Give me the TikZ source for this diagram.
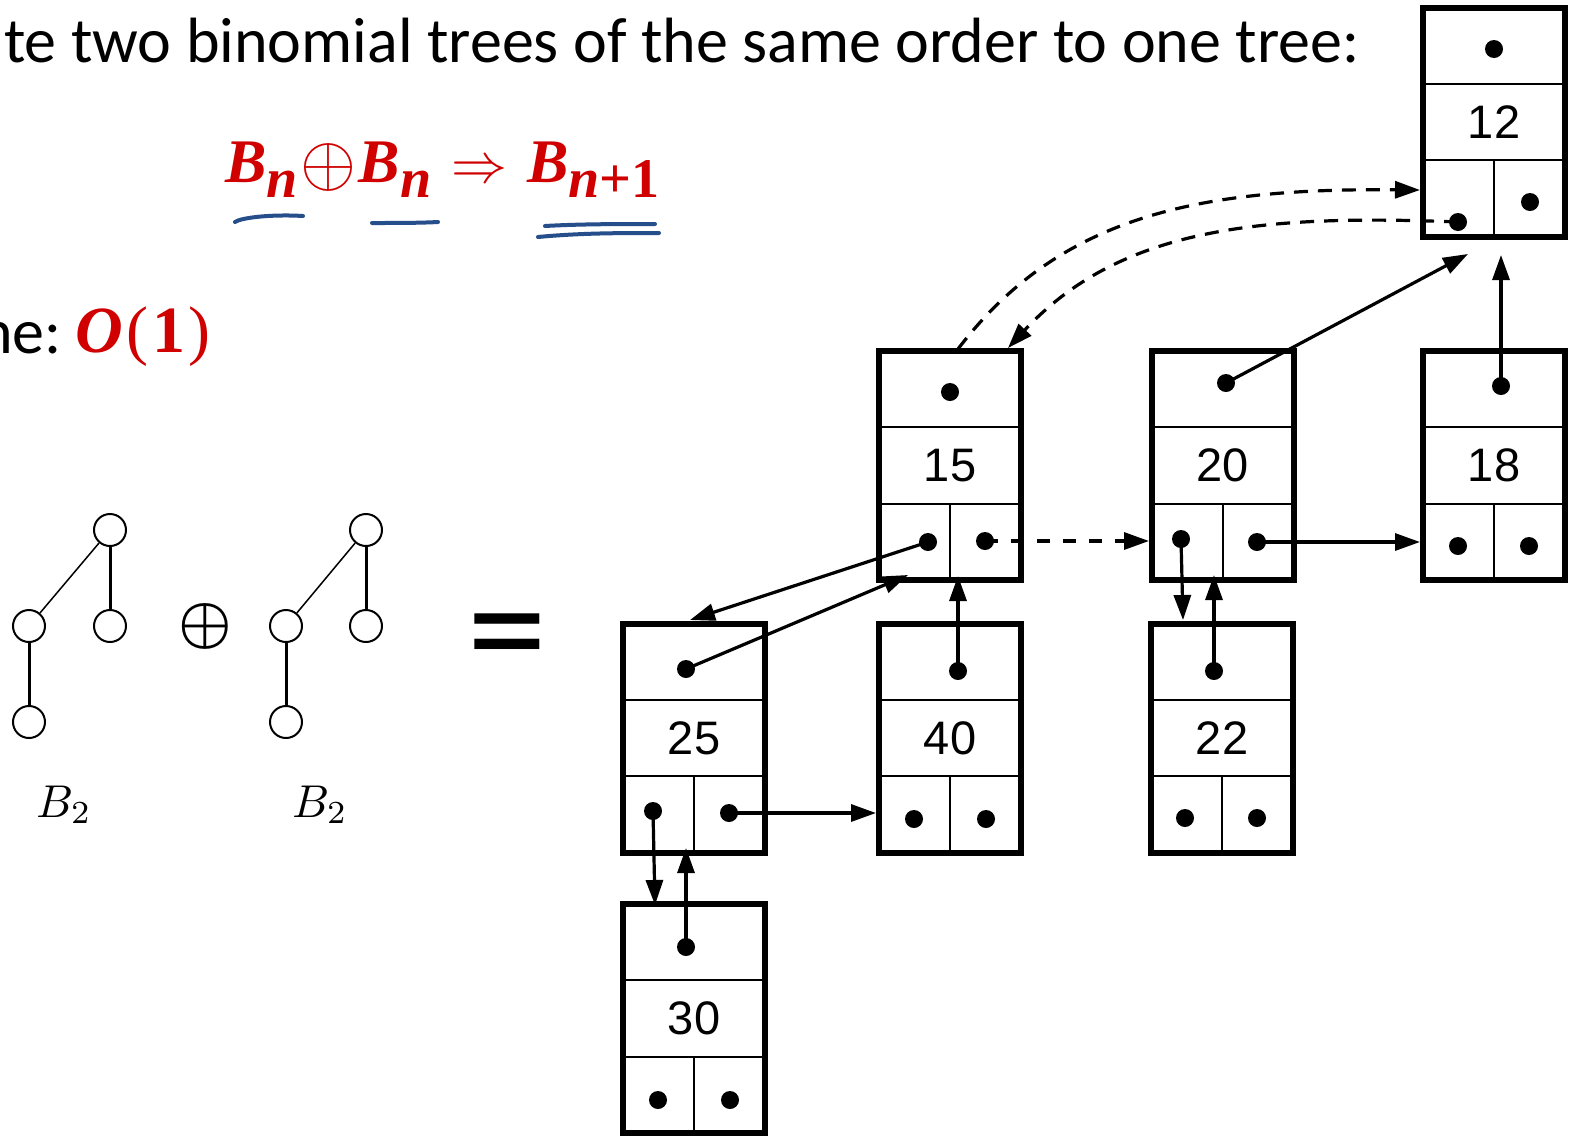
\documentclass[tikz,border=0pt]{standalone}
\usepackage[no-math]{fontspec}
\setmainfont{Carlito}
\newfontfamily\arialfont{Liberation Sans}
\newfontfamily\timesfont{Liberation Serif}
\usepackage{amsmath}
\usetikzlibrary{arrows.meta,calc}
\definecolor{myred}{RGB}{208,0,0}
\definecolor{penblue}{RGB}{38,78,138}
\tikzset{
  heapcell/.style={draw, line width=6pt, minimum width=142pt, minimum height=229pt, inner sep=0pt, outer sep=0pt},
  rowline/.style={line width=2pt},
  ptr/.style={circle, fill, inner sep=0pt, minimum size=18pt},
  conn/.style={line width=3.2pt, -{Triangle[length=25pt,width=17pt]}},
  dconn/.style={conn, dash pattern=on 13pt off 13pt},
  cconn/.style={conn, dash pattern=on 14pt off 10pt},
  keytext/.style={font=\arialfont\fontsize{47}{56}\selectfont, inner sep=0pt},
  tnode/.style={circle, draw, line width=2pt, minimum size=32pt, inner sep=0pt},
  thinedge/.style={line width=1.5pt},
  thickedge/.style={line width=3pt},
  pen/.style={penblue, line width=4pt, line cap=round},
}
\newcommand\heapbox[4]{%
  \node[heapcell] (#1) at (#2,#3) {};
  \draw[rowline] ($(#1.north west)!1/3!(#1.south west)$) -- ($(#1.north east)!1/3!(#1.south east)$);
  \draw[rowline] ($(#1.north west)!2/3!(#1.south west)$) -- ($(#1.north east)!2/3!(#1.south east)$);
  \draw[rowline] ($(#1.north)!2/3!(#1.south)$) -- (#1.south);
  \node[keytext] (#1-key) at (#1.center) {#4};
}
\newcommand\ptrs[7]{%
  \node[ptr] (#1-t) at (#2,#3) {};
  \node[ptr] (#1-l) at (#4,#5) {};
  \node[ptr] (#1-r) at (#6,#7) {};
}
\newcommand\bigmath[2]{\scalebox{#1}{\normalsize$#2$}}
\begin{document}
\begin{tikzpicture}[x=1pt,y=-1pt]
\useasboundingbox (0,0) rectangle (1569,1136);
\fill[white] (0,0) rectangle (1569,1136);

% ---- texts
\node[anchor=base west, inner sep=0pt, font=\fontsize{64}{70}\selectfont] (title) at (4,62)
  {te two binomial trees of the same order to one tree:};
\node[anchor=base west, inner sep=0pt, font=\fontsize{64}{70}\selectfont] (time) at (-21,353) {ne:};
\node[anchor=base west, inner sep=0pt, text=myred, font=\fontsize{66}{70}\selectfont] (cost) at (75,352)
  {{\timesfont\bfseries\itshape O}\hspace{4pt}{\timesfont(}\hspace{4pt}{\timesfont\bfseries 1}\hspace{3pt}{\timesfont)}};
\node[anchor=base west, inner sep=0pt, text=myred, font=\fontsize{62}{70}\selectfont] (formula) at (225,182)
  {\timesfont\bfseries\itshape B\raisebox{-15pt}{\fontsize{56}{60}\selectfont n}\hspace{3pt}\raisebox{-3pt}{\bigmath{7.2}{\oplus}}\hspace{2pt}B\raisebox{-15pt}{\fontsize{56}{60}\selectfont n}\hspace{20pt}\bigmath{5.6}{\Rightarrow}\hspace{20pt}B\raisebox{-15pt}{\fontsize{56}{60}\selectfont n\upshape +1}};

% ---- pen strokes
\draw[pen] (235,222) .. controls (240,218) and (270,214) .. (303,216);
\draw[pen] (372,223) .. controls (395,223) and (420,223) .. (438,222);
\draw[pen] (545,226) .. controls (580,224) and (620,224) .. (655,224);
\draw[pen] (538,237) .. controls (580,233) and (620,233) .. (659,233);

% ---- binomial trees
\node[tnode] (t1r) at (110,530) {};
\node[tnode] (t1a) at (29,626) {};
\node[tnode] (t1b) at (110,626) {};
\node[tnode] (t1c) at (29,722) {};
\draw[thinedge] (t1r) -- (t1a);
\draw[thickedge] (t1r) -- (t1b);
\draw[thickedge] (t1a) -- (t1c);
\node[tnode] (t2r) at (366,530) {};
\node[tnode] (t2a) at (286,626) {};
\node[tnode] (t2b) at (366,626) {};
\node[tnode] (t2c) at (286,722) {};
\draw[thinedge] (t2r) -- (t2a);
\draw[thickedge] (t2r) -- (t2b);
\draw[thickedge] (t2a) -- (t2c);
\node[inner sep=0pt] (plus) at (205,626) {\bigmath{6}{\boldsymbol{\oplus}}};
\node[anchor=base, inner sep=0pt] (lab1) at (64,817) {\bigmath{4.6}{B_2}};
\node[anchor=base, inner sep=0pt] (lab2) at (320,817) {\bigmath{4.6}{B_2}};
\node[anchor=base, inner sep=0pt, font=\fontsize{160}{160}\selectfont] (eq) at (507.5,682) {=};

% ---- heap boxes
\heapbox{b12}{1494}{122}{12}
\heapbox{b15}{950}{465.5}{15}
\heapbox{b20}{1222.5}{465.5}{20}
\heapbox{b18}{1494}{465.5}{18}
\heapbox{b25}{694}{738}{25}
\heapbox{b40}{950}{738}{40}
\heapbox{b22}{1222}{738}{22}
\heapbox{b30}{694}{1018.5}{30}

\ptrs{b12}{1494}{49}{1458}{222}{1530}{202}
\ptrs{b15}{950}{392}{928}{542}{985}{541}
\ptrs{b20}{1226}{383}{1181}{539}{1257}{542}
\ptrs{b18}{1501}{386}{1458}{546}{1529}{546}
\ptrs{b25}{686}{669}{653}{811}{729}{813}
\ptrs{b40}{958}{671}{914}{819}{986}{819}
\ptrs{b22}{1214}{671}{1185}{818}{1257}{818}
\ptrs{b30}{686}{947}{658}{1100}{730}{1100}

% ---- connector end points
\coordinate (e20to12) at (1468,254);
\coordinate (e18to12) at (1501,255);
\coordinate (e15to20) at (1149,541);
\coordinate (e20to18) at (1420,542);
\coordinate (e20to22) at (1183,620);
\coordinate (e22to20) at (1214,575);
\coordinate (e15to25) at (690,620);
\coordinate (e25to15) at (908,575);
\coordinate (e40to15) at (958,576);
\coordinate (e25to40) at (876,813);
\coordinate (e25to30) at (655,905);
\coordinate (e30to25) at (686,848);
\coordinate (s15top) at (958,349);
\coordinate (e15to12) at (1420,190);
\coordinate (e12to15) at (1008,348);

% ---- connectors
\draw[conn] (b20-t.center) -- (e20to12);
\draw[conn] (b18-t.center) -- (e18to12);
\draw[dconn] (b15-r.center) -- (e15to20);
\draw[conn] (b20-r.center) -- (e20to18);
\draw[conn] (b20-l.center) -- (e20to22);
\draw[conn] (b22-t.center) -- (e22to20);
\draw[conn] (b15-l.center) -- (e15to25);
\draw[conn] (b25-t.center) -- (e25to15);
\draw[conn] (b40-t.center) -- (e40to15);
\draw[conn] (b25-r.center) -- (e25to40);
\draw[conn] (b25-l.center) -- (e25to30);
\draw[conn] (b30-t.center) -- (e30to25);
\draw[cconn] (s15top) .. controls (1060,215) and (1200,188) .. (e15to12);
\draw[cconn] (b12-l.center) .. controls (1260,214) and (1120,228) .. (e12to15);
\end{tikzpicture}
\end{document}
